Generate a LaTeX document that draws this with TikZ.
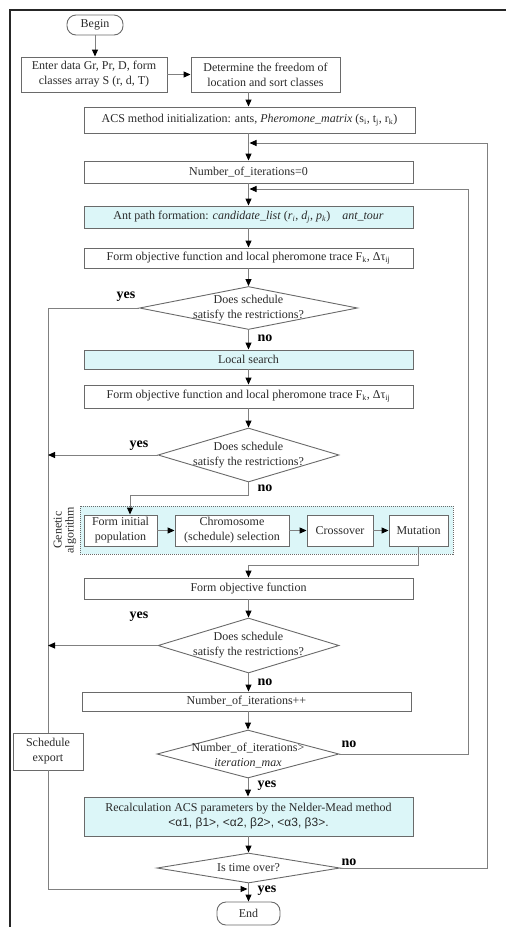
\documentclass[tikz,border=0pt]{standalone}
\usepackage{fontspec}
\setmainfont{Liberation Serif}
\newfontfamily\labelsans{Liberation Sans}
\usetikzlibrary{arrows.meta,shapes.geometric}

\definecolor{linegray}{HTML}{808080}
\definecolor{boxgray}{HTML}{6A6A6A}
\definecolor{palecyan}{HTML}{DCF6F8}
\definecolor{inkgray}{HTML}{2B2B2B}

\begin{document}
\begin{tikzpicture}[x=1pt,y=-1pt,
  every node/.style={text=inkgray},
  font=\fontsize{12}{15}\selectfont,
  box/.style={draw=boxgray, line width=0.9pt, fill=white, align=center, inner sep=1pt},
  hl/.style={box, fill=palecyan},
  term/.style={box, rounded corners=9pt},
  decision/.style={diamond, draw=boxgray, line width=0.9pt, fill=white, inner sep=0pt},
  qtext/.style={align=center, font=\fontsize{12}{15}\selectfont, text=inkgray},
  flow/.style={draw=linegray, line width=1pt, -{Triangle[length=7pt,width=6pt,color=black]}},
  plain/.style={draw=linegray, line width=1pt},
  answer/.style={font=\fontsize{14}{16}\selectfont\bfseries, text=black},
]
\useasboundingbox (0,0) rectangle (506,927);

% outer frame (top and left edges)
\draw[line width=2.2pt, draw=black!85] (10,927) -- (10,10) -- (506,10);

% main column
\node[term, minimum width=56, minimum height=20] (begin) at (95,25) {Begin};
\node[box, minimum width=146, minimum height=35] (enter) at (94,74.5)
  {Enter data Gr, Pr, D, form\\classes array S (r, d, T)};
\node[box, minimum width=149, minimum height=35] (determine) at (265.5,74.5)
  {Determine the freedom of\\location and sort classes};
\node[box, minimum width=331, minimum height=26] (acs) at (249.5,120)
  {ACS method initialization: ants, \textit{Pheromone\_matrix} (s\textsubscript{i}, t\textsubscript{j}, r\textsubscript{k})};
\node[box, minimum width=329, minimum height=22] (iter0) at (248.5,172) {Number\_of\_iterations=0};
\node[hl, minimum width=329, minimum height=22] (ant) at (248.5,217)
  {Ant path formation: \textit{candidate\_list} (\textit{r}\textsubscript{\textit{i}}, \textit{d}\textsubscript{\textit{j}}, \textit{p}\textsubscript{\textit{k}})\quad\textit{ant\_tour}};
\node[box, minimum width=329, minimum height=20] (form1) at (248.5,258)
  {Form objective function and local pheromone trace F\textsubscript{k}, Δτ\textsubscript{ij}};
\node[decision, minimum width=218, minimum height=43,
  label={[qtext]center:Does schedule\\satisfy the restrictions?}] (dec1) at (248.5,308) {};
\node[hl, minimum width=329, minimum height=19] (local) at (248.5,359.5) {Local search};
\node[box, minimum width=329, minimum height=23] (form2) at (248.5,396.5)
  {Form objective function and local pheromone trace F\textsubscript{k}, Δτ\textsubscript{ij}};
\node[decision, minimum width=181, minimum height=54,
  label={[qtext]center:Does schedule\\satisfy the restrictions?}] (dec2) at (248.5,455) {};

% genetic algorithm block
\node[draw=boxgray, line width=0.8pt, dash pattern=on 1pt off 1pt, fill=palecyan,
  minimum width=373, minimum height=48, inner sep=0pt] (ga) at (266.5,530) {};
\node[rotate=90, align=center, font=\fontsize{12}{12}\selectfont] (galabel) at (65,530) {Genetic\\algorithm};
\node[box, minimum width=73, minimum height=31] (init) at (120.5,530.5) {Form initial\\population};
\node[box, minimum width=114, minimum height=31] (chrom) at (232,530.5) {Chromosome\\(schedule) selection};
\node[box, minimum width=66, minimum height=31] (cross) at (340,530.5) {Crossover};
\node[box, minimum width=59, minimum height=31] (mut) at (418.5,530.5) {Mutation};

\node[box, minimum width=329, minimum height=21] (formobj) at (248.5,588.5) {Form objective function};
\node[decision, minimum width=181, minimum height=55,
  label={[qtext]center:Does schedule\\satisfy the restrictions?}] (dec3) at (248.5,645.5) {};
\node[box, minimum width=329, minimum height=19] (iterpp) at (246.5,701.5) {Number\_of\_iterations++};
\node[decision, minimum width=182, minimum height=48,
  label={[qtext, yshift=-2pt]center:Number\_of\_iterations>\\\textit{iteration\_max}}] (dec4) at (248,754) {};
\node[box, minimum width=70, minimum height=37] (export) at (48,751.5) {Schedule\\export};
\node[hl, minimum width=329, minimum height=39] (recalc) at (248.5,816.5)
  {Recalculation ACS parameters by the Nelder-Mead method\\{\labelsans <α1, β1>, <α2, β2>, <α3, β3>.}};
\node[decision, minimum width=183, minimum height=30,
  label={[qtext]center:Is time over?}] (dec5) at (248.5,868) {};
\node[term, minimum width=63, minimum height=23] (end) at (248.5,913.5) {End};

% merge points of the loops
\coordinate (m1) at (249.5,143);
\coordinate (loopA) at (487,143);
\coordinate (m2) at (249.5,189);
\coordinate (loopB) at (468,189);
\coordinate (m3) at (247.5,889);

% connectors
\draw[flow] (begin.south) -- (begin.south |- enter.north);
\draw[flow] (enter.east) -- (determine.west);
\draw[flow] (determine.south -| iter0.north) -- (iter0.north |- acs.north);
\draw[flow] (acs.south -| iter0.north) -- (iter0.north);
\draw[flow] (iter0.south) -- (ant.north);
\draw[flow] (ant.south) -- (form1.north);
\draw[flow] (form1.south) -- (dec1.north);
\draw[flow] (dec1.south) -- (local.north);
\draw[flow] (local.south) -- (form2.north);
\draw[flow] (form2.south) -- (dec2.north);
\draw[flow] (dec2.south) -- ++(0,13) -| ([xshift=9.5pt]init.north);
\draw[flow] (init.east) -- (chrom.west);
\draw[flow] (chrom.east) -- (cross.west);
\draw[flow] (cross.east) -- (mut.west);
\draw[flow] (mut.south) -- ++(0,19) -| (formobj.north);
\draw[flow] (formobj.south) -- (dec3.north);
\draw[flow] (dec3.south) -- (dec3.south |- iterpp.north);
\draw[flow] (iterpp.south -| dec4.north) -- (dec4.north);
\draw[flow] (dec4.south) -- (dec4.south |- recalc.north);
\draw[flow] (recalc.south) -- (dec5.north);
\draw[flow] (dec5.south) -- (end.north);
\draw[flow] (dec4.east) -| (loopB) -- (m2);
\draw[flow] (dec5.east) -| (loopA) -- (m1);
\draw[plain] (dec1.west) -| (export.north);
\draw[flow] (dec2.west) -- (dec2.west -| export.north);
\draw[flow] (dec3.west) -- (dec3.west -| export.north);
\draw[flow] (export.south) |- (m3);

% branch answers
\node[answer] (yes1) at (126,297) {yes};
\node[answer] (no1) at (265,338) {no};
\node[answer] (yes2) at (139,446) {yes};
\node[answer] (no2) at (265,488) {no};
\node[answer] (yes3) at (139,617) {yes};
\node[answer] (no3) at (265,682) {no};
\node[answer] (no4) at (349,744) {no};
\node[answer] (yes4) at (267,786) {yes};
\node[answer] (no5) at (349,862) {no};
\node[answer] (yes5) at (267,891) {yes};
\end{tikzpicture}
\end{document}
